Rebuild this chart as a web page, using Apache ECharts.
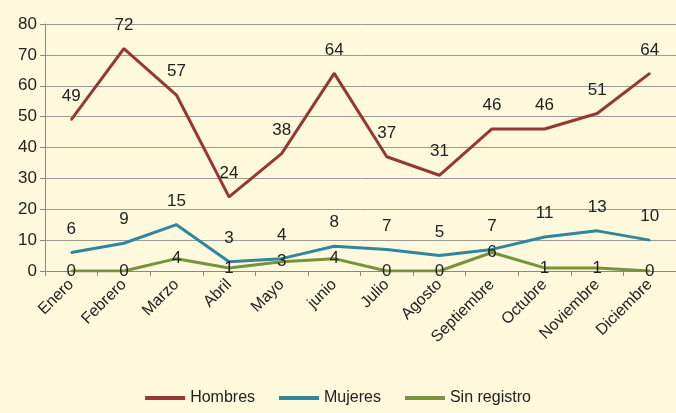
<!DOCTYPE html>
<html>
<head>
<meta charset="utf-8">
<script src="https://cdn.jsdelivr.net/npm/echarts@6/dist/echarts.min.js"></script>
<style>
  html, body { margin: 0; padding: 0; background: #fef8dd; }
  #chart { width: 676px; height: 413px; }
</style>
</head>
<body>
<div id="chart"></div>
<script>
// datos por mes
var meses = ["Enero", "Febrero", "Marzo", "Abril", "Mayo", "junio", "Julio", "Agosto", "Septiembre", "Octubre", "Noviembre", "Diciembre"];
var hombres = [49, 72, 57, 24, 38, 64, 37, 31, 46, 46, 51, 64];
var mujeres = [6, 9, 15, 3, 4, 8, 7, 5, 7, 11, 13, 10];
var sinRegistro = [0, 0, 4, 1, 3, 4, 0, 0, 6, 1, 1, 0];

var fuente = "Liberation Sans";
var chart = echarts.init(document.getElementById("chart"));

function serie(nombre, datos, color, posicion, distancia) {
  return {
    name: nombre,
    type: "line",
    data: datos,
    symbol: "circle",
    symbolSize: 2,
    lineStyle: { color: color, width: 3 },
    itemStyle: { color: color },
    labelLayout: { hideOverlap: false },
    label: {
      show: true,
      position: posicion,
      distance: distancia,
      color: "#222",
      fontSize: 17,
      fontFamily: fuente
    }
  };
}

var option = {
  backgroundColor: "#fef8dd",
  animation: false,
  grid: { left: 45, right: -2, top: 24, bottom: 142 },
  legend: {
    bottom: 2,
    left: "center",
    itemWidth: 40,
    itemHeight: 4,
    itemGap: 24,
    icon: "rect",
    textStyle: { color: "#222", fontSize: 16, fontFamily: fuente },
    data: ["Hombres", "Mujeres", "Sin registro"]
  },
  xAxis: {
    type: "category",
    data: meses,
    boundaryGap: true,
    axisLine: { lineStyle: { color: "#888", width: 1 } },
    axisTick: { show: true, length: 5, lineStyle: { color: "#888" } },
    axisLabel: {
      rotate: 45,
      interval: 0,
      color: "#222",
      fontSize: 16,
      fontFamily: fuente,
      margin: 11
    }
  },
  yAxis: {
    type: "value",
    min: 0,
    max: 80,
    interval: 10,
    axisLine: { show: true, lineStyle: { color: "#888" } },
    axisTick: { show: true, length: 5, lineStyle: { color: "#888" } },
    splitLine: { lineStyle: { color: "#999", width: 1 } },
    axisLabel: { color: "#222", fontSize: 17, fontFamily: fuente, margin: 8 }
  },
  series: [
    serie("Hombres", hombres, "#953735", "top", 14),
    serie("Mujeres", mujeres, "#31859c", "top", 14),
    serie("Sin registro", sinRegistro, "#77933c", "inside", 0)
  ]
};
chart.setOption(option);
</script>
</body>
</html>
